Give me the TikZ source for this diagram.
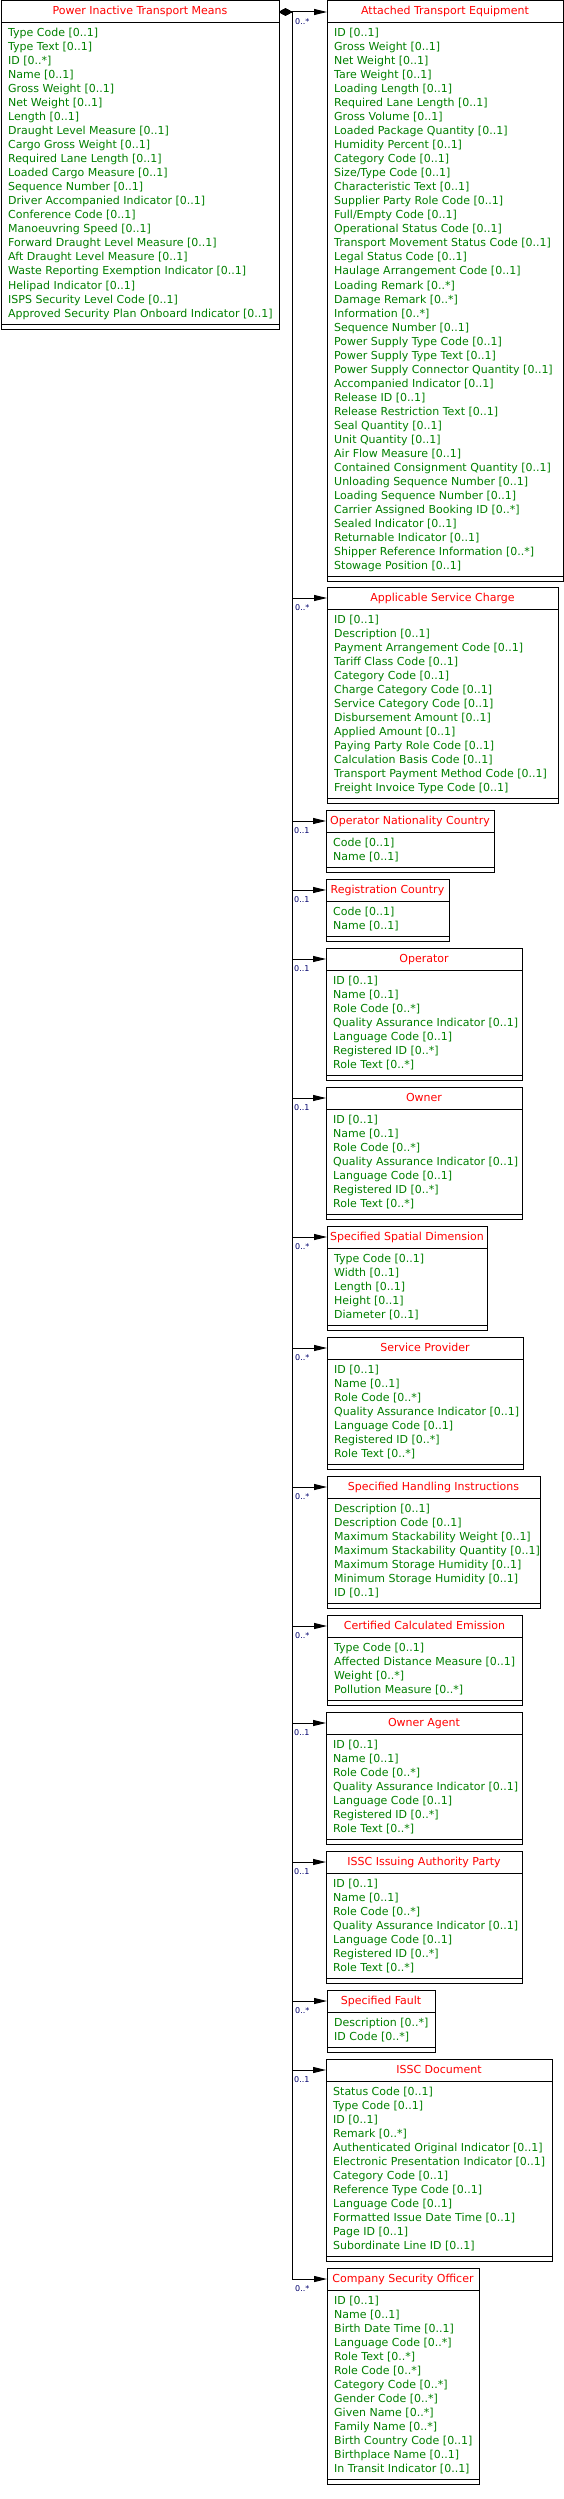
\documentclass[tikz,border=0pt]{standalone}
\usepackage{fontspec}
\setmainfont{DejaVu Sans}
\usetikzlibrary{arrows.meta,calc}
\definecolor{umlred}{RGB}{255,0,0}
\definecolor{umlgreen}{RGB}{0,128,0}
\definecolor{umlnavy}{RGB}{0,0,110}
\tikzset{
 classbox/.style={draw=black, line width=1pt, fill=white, inner sep=0pt, outer sep=0pt},
 classrule/.style={draw=black, line width=1pt},
 classtitle/.style={text=umlred, font=\fontsize{11}{14}\selectfont, inner sep=0pt, anchor=base},
 classattr/.style={text=umlgreen, font=\fontsize{11}{14}\selectfont, inner sep=0pt, anchor=base west},
 mult/.style={text=umlnavy, font=\fontsize{8}{9}\selectfont, inner sep=0pt, anchor=west},
 assoc/.style={draw=black, line width=1pt, {Diamond[length=13pt,width=7pt]}-{Triangle[length=13pt,width=6pt]}},
}
% #1 name, #2 left, #3 top, #4 right, #5 number of items, #6 title, #7 items
\newcommand\umlclass[7]{%
 \node[classbox, anchor=north west, minimum width={#4pt-#2pt}, minimum height={(34+14*#5)*1pt}] (#1) at (#2,#3) {};
 \draw[classrule] ($(#1.north west)+(0,22)$) -- ($(#1.north east)+(0,22)$);
 \draw[classrule] ($(#1.south west)+(0,-5)$) -- ($(#1.south east)+(0,-5)$);
 \node[classtitle] (#1-title) at ($(#1.north)+(0,14)$) {#6};
 \foreach \t [count=\i] in {#7} {\node[classattr] (#1-a\i) at ($(#1.north west)+(7,22+14*\i)$) {\t};}
 \coordinate (#1-in) at ($(#1.north west)+(0,11)$);
}
\newcommand\umlchild[2]{%
 \draw[assoc] (src) -- (trunk) |- (#1-in);
 \node[mult] (#1-m) at ($(#1-in)+(-32,10)$) {#2};
}
\begin{document}
\begin{tikzpicture}[x=1pt,y=-1pt]
\useasboundingbox[fill=white] (0,0) rectangle (564,2499);

\umlclass{main}{1}{1}{279}{21}{Power Inactive Transport Means}{Type Code [0..1],Type Text [0..1],ID [0..*],Name [0..1],Gross Weight [0..1],Net Weight [0..1],Length [0..1],Draught Level Measure [0..1],Cargo Gross Weight [0..1],Required Lane Length [0..1],Loaded Cargo Measure [0..1],Sequence Number [0..1],Driver Accompanied Indicator [0..1],Conference Code [0..1],Manoeuvring Speed [0..1],Forward Draught Level Measure [0..1],Aft Draught Level Measure [0..1],Waste Reporting Exemption Indicator [0..1],Helipad Indicator [0..1],ISPS Security Level Code [0..1],Approved Security Plan Onboard Indicator [0..1]}

\umlclass{ate}{327}{1}{563}{39}{Attached Transport Equipment}{ID [0..1],Gross Weight [0..1],Net Weight [0..1],Tare Weight [0..1],Loading Length [0..1],Required Lane Length [0..1],Gross Volume [0..1],Loaded Package Quantity [0..1],Humidity Percent [0..1],Category Code [0..1],Size/Type Code [0..1],Characteristic Text [0..1],Supplier Party Role Code [0..1],Full/Empty Code [0..1],Operational Status Code [0..1],Transport Movement Status Code [0..1],Legal Status Code [0..1],Haulage Arrangement Code [0..1],Loading Remark [0..*],Damage Remark [0..*],Information [0..*],Sequence Number [0..1],Power Supply Type Code [0..1],Power Supply Type Text [0..1],Power Supply Connector Quantity [0..1],Accompanied Indicator [0..1],Release ID [0..1],Release Restriction Text [0..1],Seal Quantity [0..1],Unit Quantity [0..1],Air Flow Measure [0..1],Contained Consignment Quantity [0..1],Unloading Sequence Number [0..1],Loading Sequence Number [0..1],Carrier Assigned Booking ID [0..*],Sealed Indicator [0..1],Returnable Indicator [0..1],Shipper Reference Information [0..*],Stowage Position [0..1]}

\umlclass{asc}{327}{587}{558}{13}{Applicable Service Charge}{ID [0..1],Description [0..1],Payment Arrangement Code [0..1],Tariff Class Code [0..1],Category Code [0..1],Charge Category Code [0..1],Service Category Code [0..1],Disbursement Amount [0..1],Applied Amount [0..1],Paying Party Role Code [0..1],Calculation Basis Code [0..1],Transport Payment Method Code [0..1],Freight Invoice Type Code [0..1]}

\umlclass{onc}{326}{810}{494}{2}{Operator Nationality Country}{Code [0..1],Name [0..1]}

\umlclass{rc}{326}{879}{449}{2}{Registration Country}{Code [0..1],Name [0..1]}

\umlclass{op}{326}{948}{522}{7}{Operator}{ID [0..1],Name [0..1],Role Code [0..*],Quality Assurance Indicator [0..1],Language Code [0..1],Registered ID [0..*],Role Text [0..*]}

\umlclass{own}{326}{1087}{522}{7}{Owner}{ID [0..1],Name [0..1],Role Code [0..*],Quality Assurance Indicator [0..1],Language Code [0..1],Registered ID [0..*],Role Text [0..*]}

\umlclass{ssd}{327}{1226}{487}{5}{Specified Spatial Dimension}{Type Code [0..1],Width [0..1],Length [0..1],Height [0..1],Diameter [0..1]}

\umlclass{sp}{327}{1337}{523}{7}{Service Provider}{ID [0..1],Name [0..1],Role Code [0..*],Quality Assurance Indicator [0..1],Language Code [0..1],Registered ID [0..*],Role Text [0..*]}

\umlclass{shi}{327}{1476}{540}{7}{Specified Handling Instructions}{Description [0..1],Description Code [0..1],Maximum Stackability Weight [0..1],Maximum Stackability Quantity [0..1],Maximum Storage Humidity [0..1],Minimum Storage Humidity [0..1],ID [0..1]}

\umlclass{cce}{327}{1615}{522}{4}{Certified Calculated Emission}{Type Code [0..1],Affected Distance Measure [0..1],Weight [0..*],Pollution Measure [0..*]}

\umlclass{oa}{326}{1712}{522}{7}{Owner Agent}{ID [0..1],Name [0..1],Role Code [0..*],Quality Assurance Indicator [0..1],Language Code [0..1],Registered ID [0..*],Role Text [0..*]}

\umlclass{iap}{326}{1851}{522}{7}{ISSC Issuing Authority Party}{ID [0..1],Name [0..1],Role Code [0..*],Quality Assurance Indicator [0..1],Language Code [0..1],Registered ID [0..*],Role Text [0..*]}

\umlclass{sf}{327}{1990}{435}{2}{Specified Fault}{Description [0..*],ID Code [0..*]}

\umlclass{isd}{326}{2059}{552}{12}{ISSC Document}{Status Code [0..1],Type Code [0..1],ID [0..1],Remark [0..*],Authenticated Original Indicator [0..1],Electronic Presentation Indicator [0..1],Category Code [0..1],Reference Type Code [0..1],Language Code [0..1],Formatted Issue Date Time [0..1],Page ID [0..1],Subordinate Line ID [0..1]}

\umlclass{cso}{327}{2268}{479}{13}{Company Security Officer}{ID [0..1],Name [0..1],Birth Date Time [0..1],Language Code [0..*],Role Text [0..*],Role Code [0..*],Category Code [0..*],Gender Code [0..*],Given Name [0..*],Family Name [0..*],Birth Country Code [0..1],Birthplace Name [0..1],In Transit Indicator [0..1]}

\coordinate (src) at ($(main.north east)+(0,11)$);
\coordinate (trunk) at (292,12);

\draw[assoc] (src) -- (ate-in);
\node[mult] (ate-m) at ($(ate-in)+(-32,10)$) {0..*};
\umlchild{asc}{0..*}
\umlchild{onc}{0..1}
\umlchild{rc}{0..1}
\umlchild{op}{0..1}
\umlchild{own}{0..1}
\umlchild{ssd}{0..*}
\umlchild{sp}{0..*}
\umlchild{shi}{0..*}
\umlchild{cce}{0..*}
\umlchild{oa}{0..1}
\umlchild{iap}{0..1}
\umlchild{sf}{0..*}
\umlchild{isd}{0..1}
\umlchild{cso}{0..*}
\end{tikzpicture}
\end{document}
